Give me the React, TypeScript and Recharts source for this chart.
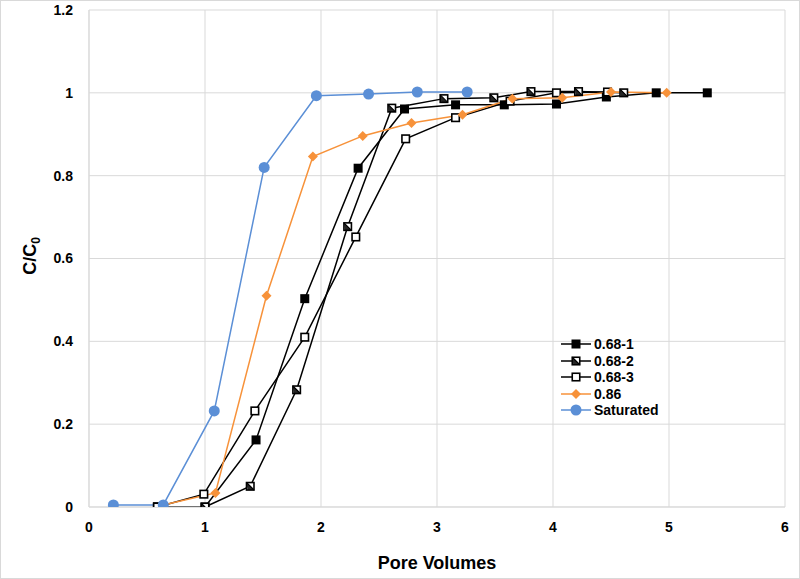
import React from 'react';
import { LineChart, Line, XAxis, YAxis, CartesianGrid, Label } from 'recharts';

// Pore volumes (x) and C/C0 (y) for each column run
const pv681 = [0.59, 1.0, 1.44, 1.86, 2.32, 2.72, 3.16, 3.58, 4.03, 4.46, 4.89, 5.33];
const cc681 = [0, 0, 0.162, 0.503, 0.818, 0.961, 0.971, 0.971, 0.973, 0.99, 1.0, 1.0];

const pv682 = [0.59, 1.0, 1.39, 1.79, 2.23, 2.61, 3.06, 3.49, 3.81, 4.22, 4.61];
const cc682 = [0, 0, 0.05, 0.283, 0.677, 0.963, 0.986, 0.988, 1.003, 1.003, 1.0];

const pv683 = [0.59, 0.99, 1.43, 1.86, 2.3, 2.73, 3.16, 3.63, 4.03, 4.47];
const cc683 = [0, 0.031, 0.232, 0.41, 0.652, 0.889, 0.94, 0.98, 1.0, 1.002];

const pv086 = [0.64, 1.09, 1.53, 1.93, 2.36, 2.78, 3.22, 3.65, 4.08, 4.5, 4.98];
const cc086 = [0.005, 0.034, 0.51, 0.846, 0.896, 0.927, 0.947, 0.986, 0.988, 1.002, 1.0];

const pvSat = [0.21, 0.64, 1.08, 1.51, 1.96, 2.41, 2.83, 3.26];
const ccSat = [0.005, 0.005, 0.232, 0.82, 0.993, 0.997, 1.002, 1.002];

const xTicks = [0, 1, 2, 3, 4, 5, 6];
const yTicks = [0, 0.2, 0.4, 0.6, 0.8, 1, 1.2];

const toPts = (xs: number[], ys: number[]) => xs.map((x, i) => ({ x, y: ys[i] }));

const ORANGE = '#F7923A';
const BLUE = '#5B8FD6';
const GRID = '#D9D9D9';
const FONT = '"Liberation Sans", Arial, sans-serif';

type Kind = 'filled' | 'diag' | 'open' | 'diamond' | 'circle';

function Marker({ kind, cx, cy }: { kind: Kind; cx: number; cy: number }) {
  const s = 9;
  if (kind === 'filled') {
    return <rect x={cx - s / 2} y={cy - s / 2} width={s} height={s} fill="#000" />;
  }
  if (kind === 'open') {
    return <rect x={cx - s / 2 + 0.75} y={cy - s / 2 + 0.75} width={s - 1.5} height={s - 1.5} fill="#fff" stroke="#000" strokeWidth={1.6} />;
  }
  if (kind === 'diag') {
    const h = s / 2 - 0.75;
    return (
      <g>
        <rect x={cx - h} y={cy - h} width={h * 2} height={h * 2} fill="#fff" stroke="#000" strokeWidth={1.6} />
        <path d={`M${cx - h} ${cy - h} L${cx + h} ${cy + h} L${cx - h + 1} ${cy + h} Z`} fill="#000" opacity={0.85} />
        <path d={`M${cx - h} ${cy - h} L${cx + h} ${cy + h}`} stroke="#000" strokeWidth={1.2} />
      </g>
    );
  }
  if (kind === 'diamond') {
    const r = 5;
    return <path d={`M${cx} ${cy - r} L${cx + r} ${cy} L${cx} ${cy + r} L${cx - r} ${cy} Z`} fill={ORANGE} />;
  }
  return <circle cx={cx} cy={cy} r={5.5} fill={BLUE} />;
}

const dotFor = (kind: Kind) => (p: any) => (
  <g key={`${kind}-${p.index}`}>
    <Marker kind={kind} cx={p.cx} cy={p.cy} />
  </g>
);

const series = [
  { name: '0.68-1', data: toPts(pv681, cc681), color: '#000', kind: 'filled' as Kind },
  { name: '0.68-2', data: toPts(pv682, cc682), color: '#000', kind: 'diag' as Kind },
  { name: '0.68-3', data: toPts(pv683, cc683), color: '#000', kind: 'open' as Kind },
  { name: '0.86', data: toPts(pv086, cc086), color: ORANGE, kind: 'diamond' as Kind },
  { name: 'Saturated', data: toPts(pvSat, ccSat), color: BLUE, kind: 'circle' as Kind },
];

function LegendBox() {
  return (
    <div style={{ position: 'absolute', left: 558, top: 335, fontFamily: FONT, fontWeight: 700, fontSize: 14 }}>
      {series.map((s) => (
        <div key={s.name} style={{ display: 'flex', alignItems: 'center', height: 16.5 }}>
          <svg width={34} height={14}>
            <line x1={2} y1={7} x2={32} y2={7} stroke={s.color} strokeWidth={1.5} />
            <Marker kind={s.kind} cx={17} cy={7} />
          </svg>
          <span style={{ marginLeft: 1, color: '#000' }}>{s.name}</span>
        </div>
      ))}
    </div>
  );
}

export default function App() {
  const tick = { fontFamily: FONT, fontWeight: 700, fontSize: 14, fill: '#000' };
  return (
    <div style={{ position: 'absolute', left: 0, top: 0, width: 800, height: 579, border: `1px solid ${GRID}`, boxSizing: 'border-box', background: '#fff' }}>
      <LineChart width={798} height={577} margin={{ top: 9, right: 14, left: 28, bottom: 41 }}>
        <CartesianGrid stroke={GRID} strokeWidth={1} />
        <XAxis
          type="number"
          dataKey="x"
          domain={[0, 6]}
          ticks={xTicks}
          allowDataOverflow
          stroke={GRID}
          tickLine={false}
          tickSize={6}
          tickMargin={9}
          height={30}
          tick={tick}
        >
          <Label
            content={({ viewBox }: any) => (
              <text x={viewBox.x + viewBox.width / 2} y={viewBox.y + 62} textAnchor="middle" fontFamily={FONT} fontWeight={700} fontSize={18} fill="#000">
                Pore Volumes
              </text>
            )}
          />
        </XAxis>
        <YAxis
          type="number"
          domain={[0, 1.2]}
          ticks={yTicks}
          allowDataOverflow
          stroke={GRID}
          tickLine={false}
          tickSize={6}
          tickMargin={10}
          width={60}
          tick={tick}
        >
          <Label
            content={() => (
              <text x={29} y={255} transform="rotate(-90 29 255)" textAnchor="middle" dy="0.35em" fontFamily={FONT} fontWeight={700} fontSize={18} fill="#000">
                <tspan>C/C</tspan>
                <tspan fontSize={12} dy={4}>0</tspan>
              </text>
            )}
          />
        </YAxis>
        {series.map((s) => (
          <Line
            key={s.name}
            data={s.data}
            dataKey="y"
            name={s.name}
            type="linear"
            stroke={s.color}
            strokeWidth={1.5}
            dot={dotFor(s.kind)}
            activeDot={false}
            isAnimationActive={false}
          />
        ))}
      </LineChart>
      <LegendBox />
    </div>
  );
}
